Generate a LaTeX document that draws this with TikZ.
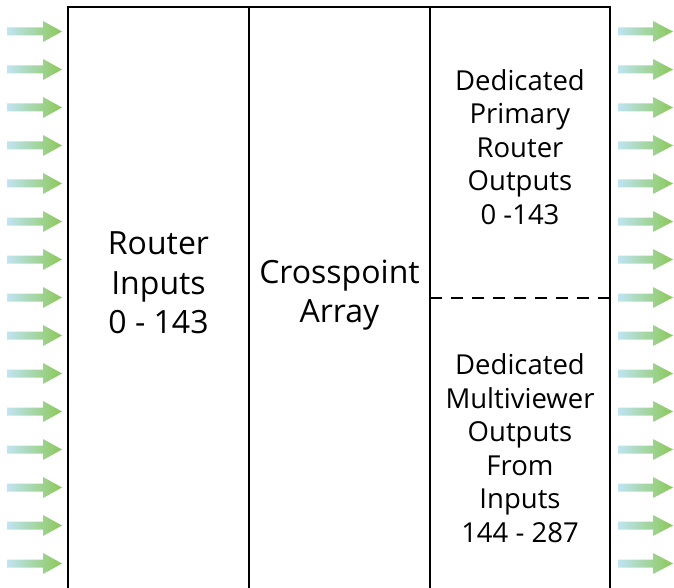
\documentclass[tikz,border=0pt]{standalone}
\usepackage{fontspec}
\setmainfont{Open Sans}
\usetikzlibrary{positioning}
\definecolor{arrowblue}{RGB}{192,228,242}
\definecolor{arrowgreen}{RGB}{138,200,88}

\begin{document}
\begin{tikzpicture}[x=1pt, y=-1pt, line width=2.6pt,
  bigtext/.style={align=center, font=\fontsize{32}{39.5}\selectfont},
  smalltext/.style={align=center, font=\fontsize{27.5}{33.5}\selectfont},
  flow/.style={left color=arrowblue, right color=arrowgreen}]
  \useasboundingbox (0,0) rectangle (674,588);

  % Rahmen und Spalten
  \draw (68,588) -- (68,7) -- (610,7) -- (610,588);
  \draw (249,7) -- (249,588);
  \draw (430,7) -- (430,588);
  \draw[line width=2pt, dash pattern=on 12pt off 9pt] (430,298) -- (610,298);

  % Texte
  \node[bigtext] (inputs) at (158.5,283) {Router\\Inputs\\0 - 143};
  \node[bigtext] (array) at (339.5,295) {Crosspoint\\Array};
  \node[smalltext] (primary) at (520,147) {Dedicated\\Primary\\Router\\Outputs\\0 -143};
  \node[smalltext] (multi) at (520,448) {Dedicated\\Multiviewer\\Outputs\\From\\Inputs\\144 - 287};

  % Pfeile links und rechts
  \foreach \i [evaluate=\i as \c using 31.5+38*\i] in {0,...,14} {
    \shade[flow] (7,{\c-4}) -- (43,{\c-4}) -- (43,{\c-10.5}) -- (62,\c)
      -- (43,{\c+10.5}) -- (43,{\c+4}) -- (7,{\c+4}) -- cycle;
    \shade[flow] (618,{\c-4}) -- (653,{\c-4}) -- (653,{\c-10.5}) -- (673,\c)
      -- (653,{\c+10.5}) -- (653,{\c+4}) -- (618,{\c+4}) -- cycle;
  }
\end{tikzpicture}
\end{document}
